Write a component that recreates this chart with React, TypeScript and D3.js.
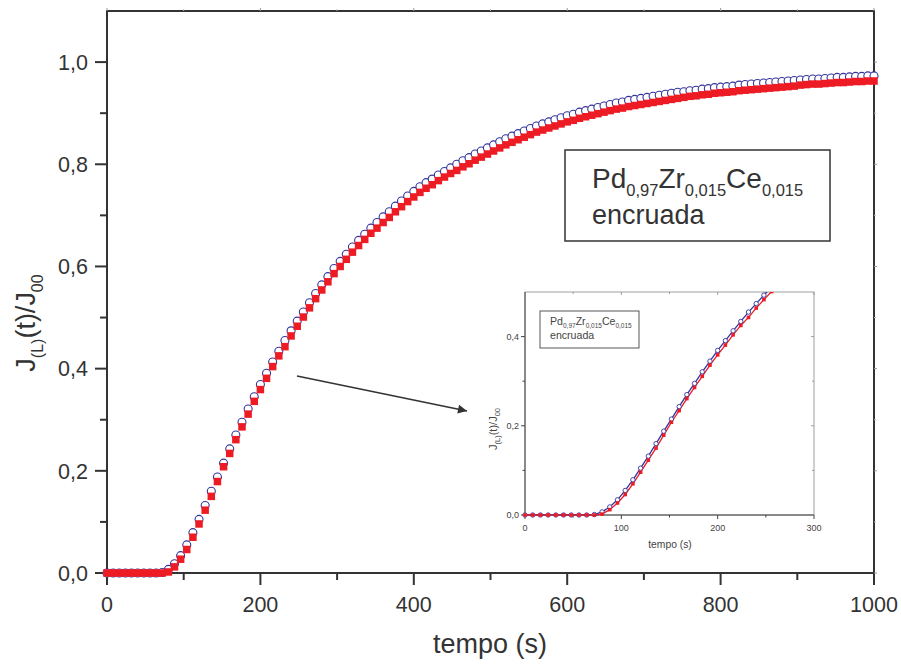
import React from "react";
import * as d3 from "d3";

const times = [0,8,16,24,32,40,48,56,64,72,80,88,96,104,112,120,128,136,144,152,160,168,176,184,192,200,208,216,224,232,240,248,256,264,272,280,288,296,304,312,320,328,336,344,352,360,368,376,384,392,400,408,416,424,432,440,448,456,464,472,480,488,496,504,512,520,528,536,544,552,560,568,576,584,592,600,608,616,624,632,640,648,656,664,672,680,688,696,704,712,720,728,736,744,752,760,768,776,784,792,800,808,816,824,832,840,848,856,864,872,880,888,896,904,912,920,928,936,944,952,960,968,976,984,992,1000];

const blueSeries = [0,0,0,0,0,0,0,0,0,
0.001,0.007,0.018,0.034,0.055,0.079,0.105,0.132,0.160,0.188,0.215,0.243,0.270,0.295,0.321,0.345,0.369,0.391,0.413,0.434,0.455,0.474,0.493,
0.511,0.529,0.547,0.564,0.580,0.596,0.610,0.624,0.638,0.651,
0.663,0.675,0.686,0.697,0.707,0.718,0.728,0.738,0.747,0.756,
0.764,0.771,0.779,0.786,0.793,0.800,0.807,0.813,0.820,0.826,
0.832,0.838,0.844,0.850,0.855,0.860,0.865,0.870,0.875,0.879,
0.883,0.887,0.891,0.895,0.898,0.902,0.905,0.908,0.911,0.914,
0.917,0.920,0.922,0.925,0.927,0.929,0.931,0.933,0.935,0.937,
0.939,0.941,0.942,0.944,0.945,0.947,0.948,0.950,0.951,0.952,
0.953,0.955,0.956,0.957,0.958,0.959,0.960,0.961,0.962,0.963,
0.964,0.965,0.966,0.967,0.967,0.968,0.969,0.970,0.970,0.971,
0.972,0.972,0.973,0.973];

const redSeries = [0,0,0,0,0,0,0,0,0,0,
0.002,0.012,0.027,0.046,0.070,0.096,0.123,0.150,0.179,0.208,0.234,0.261,0.286,0.311,0.336,0.359,0.381,0.404,0.425,0.443,0.464,0.483,
0.501,0.519,0.537,0.554,0.570,0.586,0.600,0.614,0.628,0.641,
0.653,0.665,0.675,0.686,0.696,0.707,0.717,0.727,0.736,0.745,
0.753,0.760,0.768,0.775,0.782,0.788,0.795,0.801,0.808,0.814,
0.820,0.826,0.832,0.838,0.843,0.848,0.853,0.858,0.863,0.867,
0.871,0.875,0.879,0.883,0.886,0.890,0.893,0.896,0.899,0.902,
0.905,0.908,0.910,0.913,0.915,0.917,0.919,0.921,0.923,0.925,
0.927,0.929,0.931,0.933,0.934,0.936,0.937,0.939,0.940,0.941,
0.942,0.944,0.945,0.946,0.947,0.948,0.949,0.950,0.951,0.952,
0.953,0.955,0.956,0.957,0.957,0.958,0.959,0.960,0.960,0.961,
0.962,0.962,0.963,0.963];

const xMajorTicks = [0, 200, 400, 600, 800, 1000];
const xTickLabels = ["0", "200", "400", "600", "800", "1000"];
const xMinorTicks = [100, 300, 500, 700, 900];
const yMajorTicks = [0, 0.2, 0.4, 0.6, 0.8, 1.0];
const yTickLabels = ["0,0", "0,2", "0,4", "0,6", "0,8", "1,0"];
const yMinorTicks = [0.1, 0.3, 0.5, 0.7, 0.9];

const insetXMajor = [0, 100, 200, 300];
const insetXLabels = ["0", "100", "200", "300"];
const insetXMinor = [50, 150, 250];
const insetYMajor = [0, 0.2, 0.4];
const insetYLabels = ["0,0", "0,2", "0,4"];
const insetYMinor = [0.1, 0.3];

const BLUE = "#34349c";
const RED = "#ed1c24";
const AX = "#333333";
const FONT = "'Liberation Sans', Arial, Helvetica, sans-serif";

export default function App() {
  const x = d3.scaleLinear().domain([0, 1000]).range([107, 874]);
  const y = d3.scaleLinear().domain([0, 1.1]).range([573, 11]);
  const xi = d3.scaleLinear().domain([0, 300]).range([525, 814]);
  const yi = d3.scaleLinear().domain([0, 0.5]).range([515, 292]);

  const pts = times.map((t, i) => ({ t, b: blueSeries[i], r: redSeries[i] }));
  const lineB = d3.line<any>().x((d) => xi(d.t)).y((d) => yi(d.b));
  const lineR = d3.line<any>().x((d) => xi(d.t)).y((d) => yi(d.r));
  const insetPts = pts.filter((d) => d.t <= 300);

  const sq = 7.5;
  const sqi = 3.6;

  return (
    <svg width={901} height={666} style={{ position: "absolute", left: 0, top: 0, background: "#fff" }} fontFamily={FONT}>
      <defs>
        <clipPath id="insetClip">
          <rect x={518} y={292} width={300} height={232} />
        </clipPath>
        <marker id="arrowHead" viewBox="0 0 10 10" refX="10" refY="5" markerWidth="11" markerHeight="9" markerUnits="userSpaceOnUse" orient="auto">
          <path d="M0,0 L10,5 L0,10 Z" fill="#333" />
        </marker>
      </defs>
      <rect x={0} y={0} width={901} height={666} fill="#fff" />

      {/* main frame */}
      <rect x={x(0)} y={y(1.1)} width={x(1000) - x(0)} height={y(0) - y(1.1)} fill="none" stroke={AX} strokeWidth={2} />

      {xMajorTicks.map((t, i) => (
        <g key={"xm" + t}>
          <line x1={x(t)} x2={x(t)} y1={y(0)} y2={y(0) + 12} stroke={AX} strokeWidth={2} />
          <line x1={x(t)} x2={x(t)} y1={y(1.1)} y2={y(1.1) - 3} stroke="#999" strokeWidth={1} />
          <text x={x(t)} y={612} textAnchor="middle" fontSize={21.5} fill={AX}>{xTickLabels[i]}</text>
        </g>
      ))}
      {xMinorTicks.map((t) => (
        <g key={"xn" + t}>
          <line x1={x(t)} x2={x(t)} y1={y(0)} y2={y(0) + 7} stroke={AX} strokeWidth={2} />
          <line x1={x(t)} x2={x(t)} y1={y(1.1)} y2={y(1.1) - 2} stroke="#bbb" strokeWidth={1} />
        </g>
      ))}
      {yMajorTicks.map((v, i) => (
        <g key={"ym" + v}>
          <line x1={x(0) - 12} x2={x(0)} y1={y(v)} y2={y(v)} stroke={AX} strokeWidth={2} />
          <line x1={x(1000)} x2={x(1000) + 3} y1={y(v)} y2={y(v)} stroke="#999" strokeWidth={1} />
          <text x={88} y={y(v)} dy="0.36em" textAnchor="end" fontSize={21.5} fill={AX}>{yTickLabels[i]}</text>
        </g>
      ))}
      {yMinorTicks.map((v) => (
        <g key={"yn" + v}>
          <line x1={x(0) - 7} x2={x(0)} y1={y(v)} y2={y(v)} stroke={AX} strokeWidth={2} />
          <line x1={x(1000)} x2={x(1000) + 2} y1={y(v)} y2={y(v)} stroke="#bbb" strokeWidth={1} />
        </g>
      ))}

      <text x={490} y={653} textAnchor="middle" fontSize={27} fill={AX}>tempo (s)</text>
      <text transform="translate(35,323) rotate(-90)" textAnchor="middle" fontSize={27} fill={AX}>
        J<tspan fontSize={16} dy={8}>(L)</tspan><tspan dy={-8}>(t)/J</tspan><tspan fontSize={16} dy={8}>00</tspan>
      </text>

      {pts.map((d) => (
        <circle key={"c" + d.t} cx={x(d.t)} cy={y(d.b)} r={4} fill="#fff" stroke={BLUE} strokeWidth={1.1} />
      ))}
      {pts.map((d) => (
        <rect key={"s" + d.t} x={x(d.t) - sq / 2} y={y(d.r) - sq / 2} width={sq} height={sq} fill={RED} />
      ))}

      <rect x={565} y={150} width={265} height={91} fill="#fff" stroke={AX} strokeWidth={1.5} />
      <text x={592} y={188} fontSize={28} fill={AX}>
        Pd<tspan fontSize={16.5} dy={8}>0,97</tspan><tspan dy={-8}>Zr</tspan><tspan fontSize={16.5} dy={8}>0,015</tspan><tspan dy={-8}>Ce</tspan><tspan fontSize={16.5} dy={8}>0,015</tspan>
      </text>
      <text x={592} y={224} fontSize={27} fill={AX}>encruada</text>

      <line x1={297} y1={376} x2={467} y2={411} stroke="#333" strokeWidth={1.5} markerEnd="url(#arrowHead)" />

      <rect x={xi(0)} y={yi(0.5)} width={xi(300) - xi(0)} height={yi(0) - yi(0.5)} fill="#fff" stroke="#888" strokeWidth={0.8} />
      <line x1={xi(0)} x2={xi(300)} y1={yi(0)} y2={yi(0)} stroke="#444" strokeWidth={1} />
      <line x1={xi(0)} x2={xi(0)} y1={yi(0)} y2={yi(0.5)} stroke="#444" strokeWidth={1} />
      {insetXMajor.map((t, i) => (
        <g key={"ixm" + t}>
          <line x1={xi(t)} x2={xi(t)} y1={yi(0)} y2={yi(0) + 4} stroke="#444" strokeWidth={1} />
          <line x1={xi(t)} x2={xi(t)} y1={yi(0.5)} y2={yi(0.5) + 3} stroke="#888" strokeWidth={0.8} />
          <text x={xi(t)} y={531} textAnchor="middle" fontSize={9} fill="#444">{insetXLabels[i]}</text>
        </g>
      ))}
      {insetXMinor.map((t) => (
        <g key={"ixn" + t}>
          <line x1={xi(t)} x2={xi(t)} y1={yi(0)} y2={yi(0) + 2.5} stroke="#444" strokeWidth={1} />
          <line x1={xi(t)} x2={xi(t)} y1={yi(0.5)} y2={yi(0.5) + 2} stroke="#888" strokeWidth={0.8} />
        </g>
      ))}
      {insetYMajor.map((v, i) => (
        <g key={"iym" + v}>
          <line x1={xi(0) - 4} x2={xi(0)} y1={yi(v)} y2={yi(v)} stroke="#444" strokeWidth={1} />
          <line x1={xi(300) - 3} x2={xi(300)} y1={yi(v)} y2={yi(v)} stroke="#888" strokeWidth={0.8} />
          <text x={519} y={yi(v)} dy="0.35em" textAnchor="end" fontSize={9} fill="#444">{insetYLabels[i]}</text>
        </g>
      ))}
      {insetYMinor.map((v) => (
        <g key={"iyn" + v}>
          <line x1={xi(0) - 2.5} x2={xi(0)} y1={yi(v)} y2={yi(v)} stroke="#444" strokeWidth={1} />
          <line x1={xi(300) - 2} x2={xi(300)} y1={yi(v)} y2={yi(v)} stroke="#888" strokeWidth={0.8} />
        </g>
      ))}
      <text x={670} y={548} textAnchor="middle" fontSize={10.3} fill="#444">tempo (s)</text>
      <text transform="translate(497,429) rotate(-90)" textAnchor="middle" fontSize={11} fill="#444">
        J<tspan fontSize={7.5} dy={3}>(L)</tspan><tspan dy={-3}>(t)/J</tspan><tspan fontSize={7.5} dy={3}>00</tspan>
      </text>

      <g clipPath="url(#insetClip)">
        <path d={lineB(insetPts) || ""} fill="none" stroke={BLUE} strokeWidth={1.3} />
        <path d={lineR(insetPts) || ""} fill="none" stroke={RED} strokeWidth={1.3} />
        {insetPts.map((d) => (
          <circle key={"ic" + d.t} cx={xi(d.t)} cy={yi(d.b)} r={2.2} fill="#fff" stroke={BLUE} strokeWidth={0.9} />
        ))}
        {insetPts.map((d) => (
          <rect key={"is" + d.t} x={xi(d.t) - sqi / 2} y={yi(d.r) - sqi / 2} width={sqi} height={sqi} fill={RED} />
        ))}
      </g>

      <rect x={540} y={311} width={99} height={37} fill="#fff" stroke="#444" strokeWidth={0.9} />
      <text x={550} y={325} fontSize={10.6} fill="#444">
        Pd<tspan fontSize={6.5} dy={3}>0,97</tspan><tspan dy={-3}>Zr</tspan><tspan fontSize={6.5} dy={3}>0,015</tspan><tspan dy={-3}>Ce</tspan><tspan fontSize={6.5} dy={3}>0,015</tspan>
      </text>
      <text x={550} y={339} fontSize={10.6} fill="#444">encruada</text>
    </svg>
  );
}
